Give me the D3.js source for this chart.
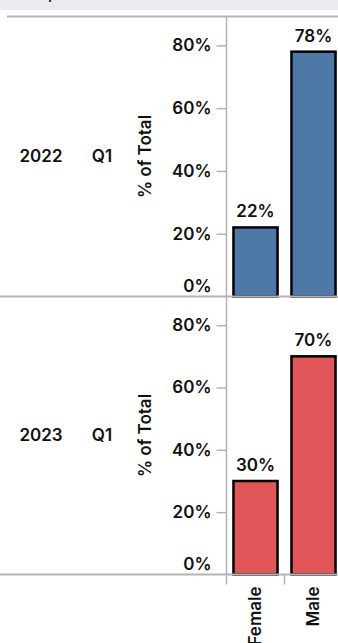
<!DOCTYPE html>
<html>
<head>
<meta charset="utf-8">
<script src="https://cdn.jsdelivr.net/npm/d3@7/dist/d3.min.js"></script>
<style>
  html, body { margin: 0; padding: 0; background: #fff; overflow: hidden; }
  svg { display: block; font-family: Inter, Lato, sans-serif; font-weight: 600; }
</style>
</head>
<body>
<svg id="chart" width="338" height="643"></svg>
<script>
// Share of total by gender, one row per year/quarter
const genders = ["Female", "Male"];
const years = ["2022", "2023"];
const quarters = ["Q1", "Q1"];
const share2022 = [0.22, 0.78];
const share2023 = [0.30, 0.70];
const rowColors = ["#4e79a7", "#e15759"];
const tickValues = [0, 0.2, 0.4, 0.6, 0.8];

const rows = [
  { year: years[0], quarter: quarters[0], values: share2022, color: rowColors[0] },
  { year: years[1], quarter: quarters[1], values: share2023, color: rowColors[1] }
];

const W = 338;
const axisX = 226.5;
const rowTops = [16.5, 296.5];
const rowBottoms = [296.5, 574.5];
const lineColor = "#b4b4b4";
const textColor = "#111";
const fontSize = 17;
const yMax = 0.892;
const pct = d3.format(".0%");

const svg = d3.select("#chart");

// column header band (scrolled mostly out of view)
svg.append("rect").attr("x", 0).attr("y", 0).attr("width", W).attr("height", 10).attr("fill", "#ebebef");
svg.append("text").attr("x", 12).attr("y", -1).attr("font-size", fontSize)
  .attr("fill", textColor).text("Year, Quarter");

const x = d3.scaleBand().domain(genders).range([axisX, axisX + 116])
  .paddingInner(0.24).paddingOuter(0.12);

rows.forEach((row, i) => {
  const top = rowTops[i], bottom = rowBottoms[i];
  const y = d3.scaleLinear().domain([0, yMax]).range([bottom, top]);
  const g = svg.append("g");

  // row headers
  const midY = (top + bottom) / 2;
  g.append("text").attr("x", 41).attr("y", midY).attr("dy", "0.35em")
    .attr("text-anchor", "middle").attr("font-size", fontSize).attr("fill", textColor).text(row.year);
  g.append("text").attr("x", 102).attr("y", midY).attr("dy", "0.35em")
    .attr("text-anchor", "middle").attr("font-size", fontSize).attr("fill", textColor).text(row.quarter);

  // axis title
  g.append("text").attr("transform", `translate(145,${midY}) rotate(-90)`)
    .attr("text-anchor", "middle").attr("dy", "0.35em").attr("font-size", fontSize)
    .attr("fill", textColor).text("% of Total");

  // y axis; the zero label is lifted to stay inside its pane
  const axis = d3.axisLeft(y).tickValues(tickValues).tickFormat(pct)
    .tickSize(10).tickPadding(5);
  const ag = g.append("g").attr("transform", `translate(${axisX},0)`).call(axis);
  ag.select(".domain").remove();
  ag.selectAll(".tick line").attr("stroke", lineColor).attr("stroke-width", 1.5)
    .attr("opacity", d => d === 0 ? 0 : 1);
  ag.selectAll(".tick text").attr("font-size", fontSize).attr("fill", textColor)
    .attr("font-family", "Inter, Lato, sans-serif").attr("font-weight", 600)
    .attr("dy", d => d === 0 ? "-0.3em" : "0.32em");

  // bars
  g.selectAll("rect.bar").data(row.values).join("rect").attr("class", "bar")
    .attr("x", (d, j) => x(genders[j]))
    .attr("y", d => y(d))
    .attr("width", x.bandwidth())
    .attr("height", d => y(0) - y(d))
    .attr("fill", row.color)
    .attr("stroke", "#000").attr("stroke-width", 2.5);

  // value labels
  g.selectAll("text.val").data(row.values).join("text").attr("class", "val")
    .attr("x", (d, j) => x(genders[j]) + x.bandwidth() / 2)
    .attr("y", d => y(d) - 10)
    .attr("text-anchor", "middle").attr("font-size", fontSize).attr("fill", textColor)
    .text(d => pct(d));
});

// frame lines
svg.append("line").attr("x1", 7).attr("x2", W).attr("y1", rowTops[0]).attr("y2", rowTops[0])
  .attr("stroke", lineColor).attr("stroke-width", 2);
svg.append("line").attr("x1", 0).attr("x2", W).attr("y1", rowBottoms[0]).attr("y2", rowBottoms[0])
  .attr("stroke", lineColor).attr("stroke-width", 2);
svg.append("line").attr("x1", 0).attr("x2", W).attr("y1", rowBottoms[1]).attr("y2", rowBottoms[1])
  .attr("stroke", lineColor).attr("stroke-width", 2);
svg.append("line").attr("x1", axisX).attr("x2", axisX).attr("y1", rowTops[0]).attr("y2", rowBottoms[1] + 10)
  .attr("stroke", lineColor).attr("stroke-width", 1.5);

// x axis category divider and labels
const xBottom = rowBottoms[1];
svg.append("line").attr("x1", axisX + x.step()).attr("x2", axisX + x.step())
  .attr("y1", xBottom).attr("y2", xBottom + 10).attr("stroke", lineColor).attr("stroke-width", 1.5);
svg.selectAll("text.cat").data(genders).join("text").attr("class", "cat")
  .attr("transform", d => `translate(${x(d) + x.bandwidth() / 2},${xBottom + 12}) rotate(-90)`)
  .attr("text-anchor", "end").attr("dy", "0.35em").attr("font-size", fontSize)
  .attr("fill", textColor).text(d => d);
</script>
</body>
</html>
